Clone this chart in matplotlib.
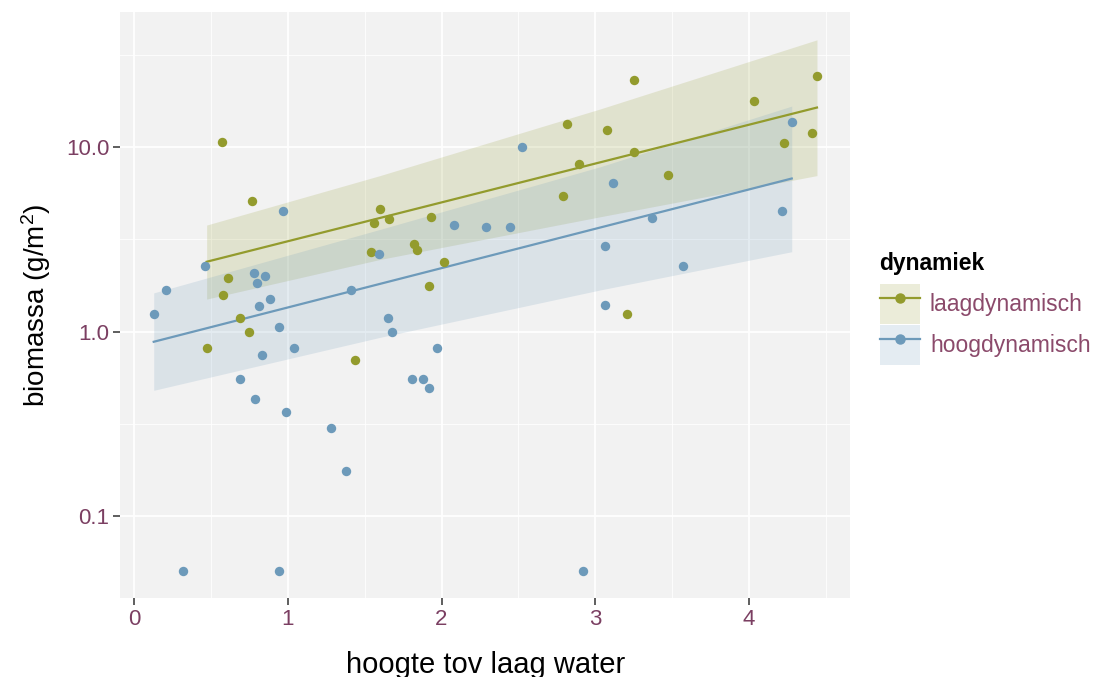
import numpy as np
import matplotlib
matplotlib.use("Agg")
import matplotlib.pyplot as plt
from matplotlib.lines import Line2D
from matplotlib.patches import Patch
from matplotlib.ticker import FixedLocator, NullFormatter

plt.rcParams['font.family'] = ['Liberation Sans', 'DejaVu Sans']
plt.rcParams['mathtext.default'] = 'regular'

groups = ['laagdynamisch', 'hoogdynamisch']

# laagdynamisch: points
laag_x = [0.575, 0.768, 0.614, 0.58, 1.60, 1.561, 1.658, 1.933, 1.541, 1.818,
          1.84, 2.018, 1.916, 0.688, 0.746, 0.473, 1.44, 3.252, 2.815, 3.075,
          3.252, 2.895, 3.475, 2.793, 4.03, 4.441, 4.227, 4.409, 3.207]
laag_y = [10.6, 5.1, 1.95, 1.57, 4.6, 3.86, 4.08, 4.16, 2.71, 2.97,
          2.77, 2.38, 1.77, 1.19, 1.0, 0.81, 0.70, 23.0, 13.3, 12.4,
          9.4, 8.1, 7.1, 5.45, 17.8, 24.2, 10.5, 11.9, 1.25]

# hoogdynamisch: points
hoog_x = [0.969, 0.465, 0.209, 0.779, 0.85, 0.798, 0.885, 0.813, 1.409, 1.591,
          2.078, 2.292, 0.129, 2.448, 2.526, 3.116, 3.369, 3.066, 3.568, 4.216,
          4.277, 3.066, 0.945, 1.649, 1.678, 0.83, 1.038, 1.972, 0.692, 1.805,
          1.877, 1.916, 0.789, 0.991, 1.283, 1.376, 0.317, 0.941, 2.921]
hoog_y = [4.5, 2.26, 1.69, 2.07, 2.0, 1.84, 1.50, 1.38, 1.69, 2.64,
          3.77, 3.67, 1.25, 3.67, 10.0, 6.38, 4.14, 2.9, 2.27, 4.5,
          13.7, 1.39, 1.06, 1.19, 1.0, 0.75, 0.81, 0.81, 0.555, 0.555,
          0.555, 0.494, 0.43, 0.366, 0.30, 0.176, 0.05, 0.05, 0.05]

# fitted trend (lm on log scale) and its confidence band
laag_fit_x = [0.473, 4.441]
laag_fit_y = [2.39, 16.4]
laag_band_x = [0.473, 1.6, 3.03, 4.441]
laag_band_lo = [1.50, 2.46, 4.19, 7.01]
laag_band_hi = [3.78, 7.01, 16.1, 38.2]

hoog_fit_x = [0.129, 4.277]
hoog_fit_y = [0.88, 6.76]
hoog_band_x = [0.129, 1.6, 3.03, 4.277]
hoog_band_lo = [0.48, 0.93, 1.68, 2.71]
hoog_band_hi = [1.62, 3.58, 7.82, 16.7]

colors = {'laagdynamisch': '#939b2d', 'hoogdynamisch': '#6d9aba'}

series = {
    'laagdynamisch': (laag_x, laag_y, laag_fit_x, laag_fit_y,
                      laag_band_x, laag_band_lo, laag_band_hi),
    'hoogdynamisch': (hoog_x, hoog_y, hoog_fit_x, hoog_fit_y,
                      hoog_band_x, hoog_band_lo, hoog_band_hi),
}

fig = plt.figure(figsize=(10.94, 6.77), dpi=100)
ax = fig.add_axes([0.110, 0.117, 0.667, 0.865])
ax.set_facecolor('#f2f2f2')

for g in groups:
    x, y, fx, fy, bx, blo, bhi = series[g]
    ax.fill_between(bx, blo, bhi, color=colors[g], alpha=0.18, lw=0, zorder=2)
    ax.plot(fx, fy, color=colors[g], lw=1.6, zorder=3)
    ax.scatter(x, y, s=46, color=colors[g], lw=0, zorder=4)

ax.set_yscale('log')
ax.set_xlim(-0.088, 4.656)
ax.set_ylim(10 ** -1.444, 10 ** 1.732)

ax.xaxis.set_major_locator(FixedLocator([0, 1, 2, 3, 4]))
ax.xaxis.set_minor_locator(FixedLocator([0.5, 1.5, 2.5, 3.5, 4.5]))
ax.yaxis.set_major_locator(FixedLocator([0.1, 1.0, 10.0]))
ax.yaxis.set_minor_locator(FixedLocator([10 ** -0.5, 10 ** 0.5, 10 ** 1.5]))
ax.yaxis.set_minor_formatter(NullFormatter())
ax.set_yticklabels(['0.1', '1.0', '10.0'])
ax.set_xticklabels(['0', '1', '2', '3', '4'])

ax.grid(which='major', color='white', lw=1.3, zorder=0)
ax.grid(which='minor', color='white', lw=0.6, zorder=0)
ax.set_axisbelow(True)
for sp in ax.spines.values():
    sp.set_visible(False)

ax.tick_params(which='major', length=5, width=1.1, color='#333333',
               labelsize=16, labelcolor='#7b3f62', pad=3)
ax.tick_params(which='minor', length=0)

ax.set_xlabel('hoogte tov laag water', fontsize=21, labelpad=15)
ax.set_ylabel('biomassa (g/m$^{2}$)', fontsize=20, labelpad=9)

handles = [(Patch(facecolor=colors[g], alpha=0.18, lw=0),
            Line2D([], [], color=colors[g], lw=1.6, marker='o', markersize=6.5))
           for g in groups]
leg = fig.legend(handles, groups, title='dynamiek', loc='upper left',
                 bbox_to_anchor=(0.804, 0.628), frameon=False,
                 fontsize=16.5, title_fontsize=16.5, handlelength=1.75,
                 handleheight=2.31, handletextpad=0.45, labelspacing=0.05,
                 borderaxespad=0, borderpad=0)
leg.get_title().set_fontweight('bold')
leg._legend_box.align = 'left'
leg._legend_box.sep = 6.6
for t in leg.get_texts():
    t.set_color('#8b4a6b')

fig.savefig('out.png', dpi=100)
